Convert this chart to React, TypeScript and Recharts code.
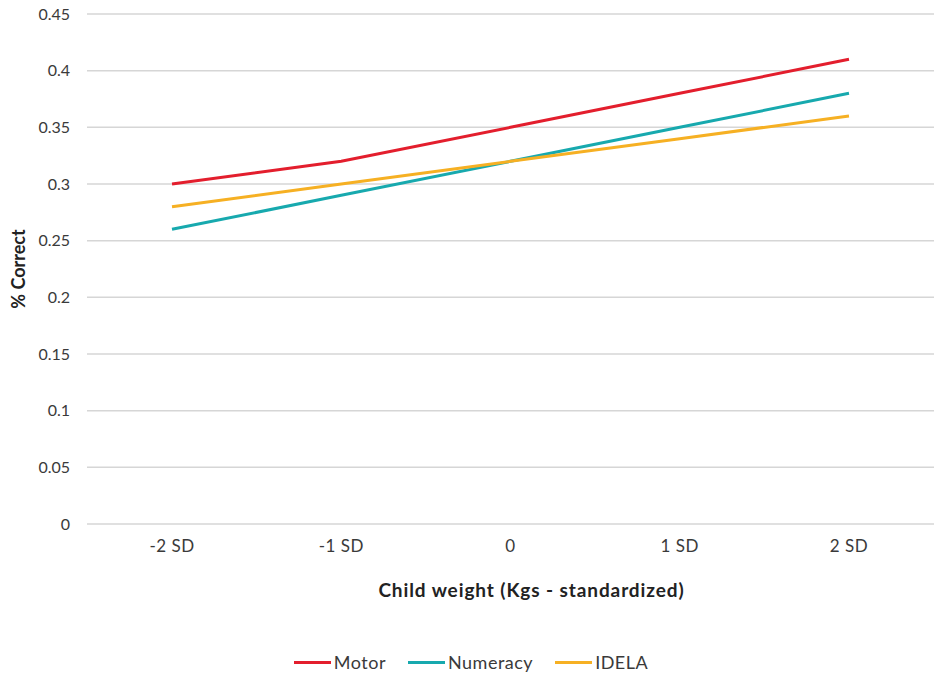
import React from 'react';
import {
  LineChart,
  Line,
  XAxis,
  YAxis,
  CartesianGrid,
  Legend,
} from 'recharts';

const categories = ['-2 SD', '-1 SD', '0', '1 SD', '2 SD'];
const motor = [0.3, 0.32, 0.35, 0.38, 0.41];
const numeracy = [0.26, 0.29, 0.32, 0.35, 0.38];
const idela = [0.28, 0.3, 0.32, 0.34, 0.36];
const yTicks = [0, 0.05, 0.1, 0.15, 0.2, 0.25, 0.3, 0.35, 0.4, 0.45];

const series = [
  { key: 'motor', name: 'Motor', color: '#e31e2d' },
  { key: 'numeracy', name: 'Numeracy', color: '#17a9ae' },
  { key: 'idela', name: 'IDELA', color: '#f6b023' },
];

const data = categories.map((c, i) => ({
  label: c,
  motor: motor[i],
  numeracy: numeracy[i],
  idela: idela[i],
}));

const FONT = 'Lato, "Open Sans", sans-serif';
const TEXT = '#3a3a3a';

function LegendBox() {
  return (
    <div
      style={{
        height: 40,
        display: 'flex',
        justifyContent: 'center',
        alignItems: 'center',
        gap: 22,
        paddingTop: 10,
        paddingLeft: 8,
        boxSizing: 'border-box',
        fontFamily: FONT,
        fontSize: 18,
        letterSpacing: 0.5,
        color: TEXT,
      }}
    >
      {series.map((s) => (
        <div key={s.key} style={{ display: 'flex', alignItems: 'center', gap: 3 }}>
          <div style={{ width: 37, height: 3, backgroundColor: s.color }} />
          <span>{s.name}</span>
        </div>
      ))}
    </div>
  );
}

export default function App() {
  return (
    <div style={{ position: 'absolute', top: 0, left: 0, background: '#fff' }}>
      <LineChart
        width={934}
        height={677}
        data={data}
        margin={{ top: 14, right: 0, left: 0, bottom: 0 }}
      >
        <CartesianGrid vertical={false} stroke="#d6d6d6" strokeWidth={1.5} />
        <XAxis
          dataKey="label"
          axisLine={false}
          tickLine={false}
          tickSize={0}
          tickMargin={16}
          height={113}
          padding={{ left: 85, right: 85 }}
          tick={{ fontSize: 17, fill: TEXT, fontFamily: FONT, letterSpacing: 0.5 }}
          label={{
            value: 'Child weight (Kgs - standardized)',
            position: 'insideBottom',
            offset: 40,
            dx: 21,
            style: {
              fontSize: 19,
              fontWeight: 700,
              fill: '#222',
              fontFamily: FONT,
              letterSpacing: 0.9,
            },
          }}
        />
        <YAxis
          width={87}
          domain={[0, 0.45]}
          ticks={yTicks}
          axisLine={false}
          tickLine={false}
          tickSize={0}
          tickMargin={17}
          tick={{ fontSize: 16, fill: TEXT, fontFamily: FONT }}
          label={({ viewBox }: any) => {
            const cy = viewBox.y + viewBox.height / 2;
            return (
              <text
                x={18}
                y={cy}
                transform={`rotate(-90, 18, ${cy})`}
                textAnchor="middle"
                dominantBaseline="central"
                style={{ fontSize: 18, fontWeight: 700, fill: '#222', fontFamily: FONT }}
              >
                % Correct
              </text>
            );
          }}
        />
        <Legend verticalAlign="bottom" content={() => <LegendBox />} />
        {series.map((s) => (
          <Line
            key={s.key}
            type="linear"
            dataKey={s.key}
            name={s.name}
            stroke={s.color}
            strokeWidth={3}
            dot={false}
            activeDot={false}
            isAnimationActive={false}
          />
        ))}
      </LineChart>
    </div>
  );
}
